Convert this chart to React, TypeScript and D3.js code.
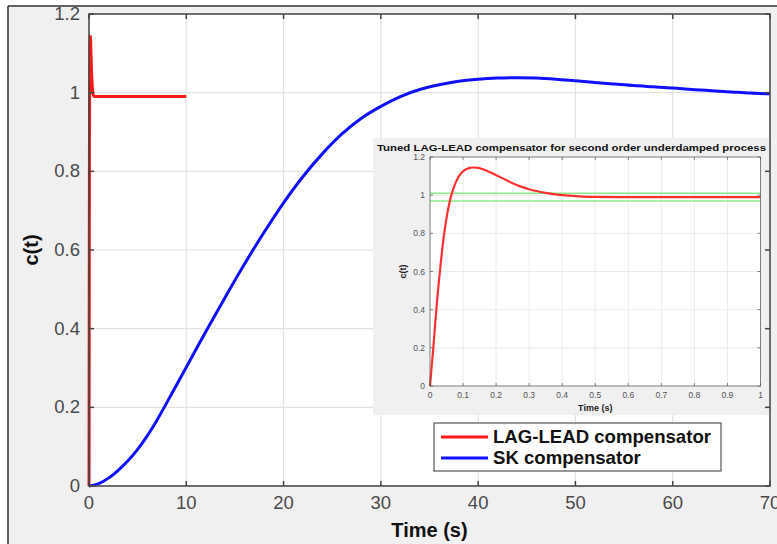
import React from "react";
import * as d3 from "d3";

// LAG-LEAD compensator response (time in s)
const leadT = [0, 0.01, 0.02, 0.03, 0.04, 0.05, 0.06, 0.07, 0.08, 0.09, 0.1, 0.12, 0.13, 0.14, 0.16, 0.18, 0.2, 0.22, 0.25, 0.28, 0.3, 0.35, 0.4, 0.45, 0.5, 0.6, 0.8, 1.0];
const leadC = [0, 0.2, 0.42, 0.6, 0.76, 0.88, 0.97, 1.03, 1.075, 1.105, 1.125, 1.143, 1.145, 1.144, 1.136, 1.122, 1.105, 1.088, 1.063, 1.042, 1.031, 1.012, 1.0, 0.994, 0.991, 0.99, 0.99, 0.99];
const leadTailT = [10];
const leadTailC = [0.99];

// SK compensator response
const skT = [0, 1, 2, 3, 4, 5, 6, 7, 8, 9, 10, 12, 14, 16, 18, 20, 22, 24, 26, 28, 30, 32, 34, 36, 38, 40, 42, 44, 46, 48, 50, 52, 54, 56, 58, 60, 62, 64, 66, 68, 70];
const skC = [0, 0.006, 0.02, 0.04, 0.064, 0.093, 0.128, 0.168, 0.212, 0.257, 0.302, 0.392, 0.48, 0.565, 0.645, 0.72, 0.787, 0.845, 0.895, 0.935, 0.965, 0.99, 1.008, 1.02, 1.029, 1.034, 1.037, 1.038, 1.037, 1.034, 1.03, 1.026, 1.022, 1.018, 1.015, 1.012, 1.008, 1.005, 1.002, 0.999, 0.997];

// settling band in the inset
const bandC = [1.01, 0.97];

const xTicks = [0, 10, 20, 30, 40, 50, 60, 70];
const yTicks = [0, 0.2, 0.4, 0.6, 0.8, 1, 1.2];
const insetXTicks = [0, 0.1, 0.2, 0.3, 0.4, 0.5, 0.6, 0.7, 0.8, 0.9, 1];
const insetYTicks = [0, 0.2, 0.4, 0.6, 0.8, 1, 1.2];

const legendNames = ["LAG-LEAD compensator", "SK compensator"];
const legendColors = ["#ff1a1a", "#1010ff"];

const fmt = (v: number) => String(+v.toFixed(1));
const FONT = "'Liberation Sans', Arial, sans-serif";

export default function App() {
  const x = d3.scaleLinear().domain([0, 70]).range([89, 770]);
  const y = d3.scaleLinear().domain([0, 1.2]).range([486, 14]);
  const ix = d3.scaleLinear().domain([0, 1]).range([430, 760.5]);
  const iy = d3.scaleLinear().domain([0, 1.2]).range([386, 157]);

  const mainLine = d3.line<[number, number]>().x(d => x(d[0])).y(d => y(d[1]));
  const insetLine = d3.line<[number, number]>().x(d => ix(d[0])).y(d => iy(d[1])).curve(d3.curveMonotoneX);
  const skLine = d3.line<[number, number]>().x(d => x(d[0])).y(d => y(d[1])).curve(d3.curveCatmullRom);

  const leadPts: [number, number][] = leadT.map((t, i) => [t, leadC[i]]);
  const leadMain: [number, number][] = leadPts.concat(leadTailT.map((t, i) => [t, leadTailC[i]] as [number, number]));
  const skPts: [number, number][] = skT.map((t, i) => [t, skC[i]]);

  const [x0, x1] = x.range();
  const [y0, y1] = y.range();
  const [ix0, ix1] = ix.range();
  const [iy0, iy1] = iy.range();

  return (
    <div style={{ position: "fixed", left: 0, top: 0 }}>
      <svg width={777} height={544} style={{ display: "block", fontFamily: FONT }}>
        <rect x={0} y={0} width={777} height={544} fill="#ffffff" />
        <rect x={8} y={6} width={769} height={538} fill="#f0f0f0" />
        <line x1={8} y1={6} x2={777} y2={6} stroke="#333" strokeWidth={1.5} />
        <line x1={8} y1={6} x2={8} y2={544} stroke="#333" strokeWidth={1.5} />

        {/* main axes */}
        <rect x={x0} y={y1} width={x1 - x0} height={y0 - y1} fill="#ffffff" />
        {xTicks.map(t => (
          <line key={"gx" + t} x1={x(t)} x2={x(t)} y1={y1} y2={y0} stroke="#e2e2e2" strokeWidth={1.2} />
        ))}
        {yTicks.map(t => (
          <line key={"gy" + t} x1={x0} x2={x1} y1={y(t)} y2={y(t)} stroke="#e2e2e2" strokeWidth={1.2} />
        ))}

        <path d={skLine(skPts) || ""} fill="none" stroke="#1010ff" strokeWidth={3} />

        {/* inset figure */}
        <rect x={373} y={138} width={397} height={277} fill="#f0f0f0" />
        <text x={571.5} y={151} textAnchor="middle" fontSize={9.8} fontWeight="bold" fill="#111"
          textLength={389} lengthAdjust="spacingAndGlyphs">
          Tuned LAG-LEAD compensator for second order underdamped process
        </text>
        <rect x={ix0} y={iy1} width={ix1 - ix0} height={iy0 - iy1} fill="#ffffff" />
        {insetXTicks.map(t => (
          <line key={"igx" + t} x1={ix(t)} x2={ix(t)} y1={iy1} y2={iy0} stroke="#e6e6e6" strokeWidth={0.8} />
        ))}
        {insetYTicks.map(t => (
          <line key={"igy" + t} x1={ix0} x2={ix1} y1={iy(t)} y2={iy(t)} stroke="#e6e6e6" strokeWidth={0.8} />
        ))}
        {bandC.map(c => (
          <line key={"band" + c} x1={ix0} x2={ix1} y1={iy(c)} y2={iy(c)} stroke="#8ee88e" strokeWidth={1.5} />
        ))}
        <path d={insetLine(leadPts) || ""} fill="none" stroke="#ff3030" strokeWidth={2.2} />
        <rect x={ix0} y={iy1} width={ix1 - ix0} height={iy0 - iy1} fill="none" stroke="#555" strokeWidth={0.7} />
        {insetXTicks.map(t => (
          <g key={"ixt" + t}>
            <line x1={ix(t)} x2={ix(t)} y1={iy0} y2={iy0 - 3} stroke="#555" strokeWidth={0.7} />
            <line x1={ix(t)} x2={ix(t)} y1={iy1} y2={iy1 + 3} stroke="#555" strokeWidth={0.7} />
            <text x={ix(t)} y={iy0 + 12} textAnchor="middle" fontSize={8.5} fill="#555">{fmt(t)}</text>
          </g>
        ))}
        {insetYTicks.map(t => (
          <g key={"iyt" + t}>
            <line x1={ix0} x2={ix0 + 3} y1={iy(t)} y2={iy(t)} stroke="#555" strokeWidth={0.7} />
            <line x1={ix1} x2={ix1 - 3} y1={iy(t)} y2={iy(t)} stroke="#555" strokeWidth={0.7} />
            <text x={ix0 - 5} y={iy(t) + 3} textAnchor="end" fontSize={8.5} fill="#555">{fmt(t)}</text>
          </g>
        ))}
        <text x={(ix0 + ix1) / 2} y={410.5} textAnchor="middle" fontSize={9} fontWeight="bold" fill="#222">Time (s)</text>
        <text transform={`translate(406,${(iy0 + iy1) / 2}) rotate(-90)`} textAnchor="middle" fontSize={9} fontWeight="bold" fill="#222">c(t)</text>

        {/* red main trace on top */}
        <path d={mainLine(leadMain) || ""} fill="none" stroke="#ff1a1a" strokeWidth={3} />

        {/* main box and ticks */}
        <rect x={x0} y={y1} width={x1 - x0} height={y0 - y1} fill="none" stroke="#444" strokeWidth={1.5} />
        {xTicks.map(t => (
          <g key={"xt" + t}>
            <line x1={x(t)} x2={x(t)} y1={y0} y2={y0 - 5} stroke="#444" strokeWidth={1.5} />
            <line x1={x(t)} x2={x(t)} y1={y1} y2={y1 + 5} stroke="#444" strokeWidth={1.5} />
            <text x={x(t)} y={y0 + 23} textAnchor="middle" fontSize={18.5} fill="#4a4a4a">{fmt(t)}</text>
          </g>
        ))}
        {yTicks.map(t => (
          <g key={"yt" + t}>
            <line x1={x0} x2={x0 + 5} y1={y(t)} y2={y(t)} stroke="#444" strokeWidth={1.5} />
            <line x1={x1} x2={x1 - 5} y1={y(t)} y2={y(t)} stroke="#444" strokeWidth={1.5} />
            <text x={x0 - 9} y={y(t) + 6} textAnchor="end" fontSize={18.5} fill="#4a4a4a">{fmt(t)}</text>
          </g>
        ))}
        <text x={(x0 + x1) / 2} y={537} textAnchor="middle" fontSize={20} fontWeight="bold" fill="#111">Time (s)</text>
        <text transform={`translate(38,${(y0 + y1) / 2}) rotate(-90)`} textAnchor="middle" fontSize={20} fontWeight="bold" fill="#111">c(t)</text>

        {/* legend */}
        <rect x={434} y={423} width={287} height={48} fill="#ffffff" stroke="#555" strokeWidth={1.2} />
        {legendNames.map((n, i) => (
          <g key={n}>
            <line x1={441} x2={488} y1={437 + i * 21} y2={437 + i * 21} stroke={legendColors[i]} strokeWidth={3} />
            <text x={493} y={443 + i * 21} fontSize={18.6} fontWeight="bold" fill="#111">{n}</text>
          </g>
        ))}
      </svg>
    </div>
  );
}
